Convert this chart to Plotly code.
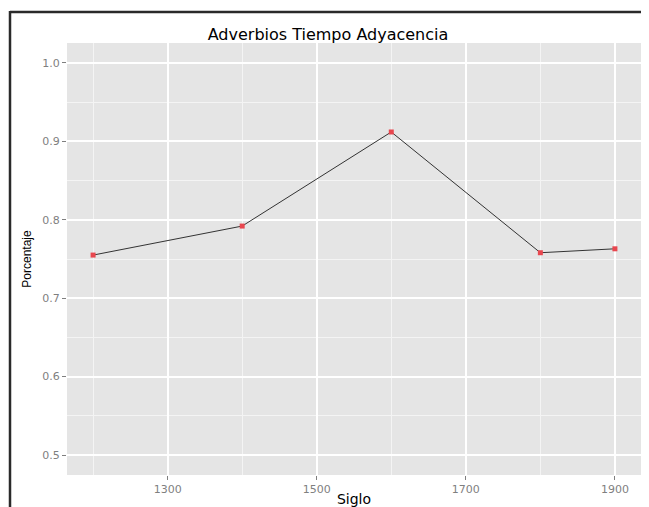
import plotly.graph_objects as go

siglo = [1200, 1400, 1600, 1800, 1900]
porcentaje = [0.755, 0.792, 0.912, 0.758, 0.763]
x_ticks = [1300, 1500, 1700, 1900]
y_ticks = [0.5, 0.6, 0.7, 0.8, 0.9, 1.0]

# page has an 8px body margin, so the figure is drawn 8px right/down
OFF = 8
W, H = 649 - OFF, 507 - OFF
ML, MR, MT, MB = 67 - OFF, 8, 43 - OFF, 32
PW, PH = W - ML - MR, H - MT - MB

def px_x(p):  # screen px -> paper
    return (p - OFF - ML) / PW

def px_y(p):
    return (H - MB - (p - OFF)) / PH

fig = go.Figure()
fig.add_trace(go.Scatter(
    x=siglo, y=porcentaje, mode="lines+markers",
    line=dict(color="#333333", width=1),
    marker=dict(symbol="square", size=5, color="#e8474f"),
    showlegend=False,
))

fig.update_layout(
    width=W, height=H,
    margin=dict(l=ML, r=MR, t=MT, b=MB, autoexpand=False),
    paper_bgcolor="white",
    plot_bgcolor="#e5e5e5",
    font=dict(family="DejaVu Sans, sans-serif"),
    title=dict(text="Adverbios Tiempo Adyacencia", x=(328 - OFF) / W, xanchor="center",
               y=1 - (34 - OFF) / H, yanchor="middle",
               font=dict(size=16, color="black")),
    xaxis=dict(
        range=[1165, 1935], tickvals=x_ticks, ticktext=[str(v) for v in x_ticks],
        automargin=False,
        showgrid=True, gridcolor="white", gridwidth=1.6,
        minor=dict(tickvals=[1200, 1400, 1600, 1800], showgrid=True,
                   gridcolor="#f4f4f4", gridwidth=1, ticks=""),
        ticks="outside", ticklen=4, tickcolor="#7f7f7f", tickwidth=1,
        tickfont=dict(size=11, color="#7f7f7f"),
        zeroline=False, showline=False,
        title=dict(text="Siglo", font=dict(size=14, color="black"), standoff=0),
    ),
    yaxis=dict(
        range=[0.4745, 1.0255], tickvals=y_ticks, ticktext=["%.1f" % v for v in y_ticks],
        automargin=False,
        showgrid=True, gridcolor="white", gridwidth=1.6,
        minor=dict(tickvals=[0.55, 0.65, 0.75, 0.85, 0.95], showgrid=True,
                   gridcolor="#f4f4f4", gridwidth=1, ticks=""),
        ticks="outside", ticklen=4, tickcolor="#7f7f7f", tickwidth=1,
        tickfont=dict(size=11, color="#7f7f7f"),
        zeroline=False, showline=False,
        title=dict(text="Porcentaje",
                   font=dict(size=12, color="black", family="Liberation Sans, Arial, sans-serif"),
                   standoff=8),
    ),
    shapes=[
        dict(type="line", xref="paper", yref="paper",
             x0=px_x(10), x1=px_x(660), y0=px_y(12), y1=px_y(12),
             line=dict(color="#2a2a2a", width=2.5)),
        dict(type="line", xref="paper", yref="paper",
             x0=px_x(10), x1=px_x(10), y0=px_y(11), y1=px_y(520),
             line=dict(color="#2a2a2a", width=2.5)),
    ],
)

fig.write_html("out.html")
